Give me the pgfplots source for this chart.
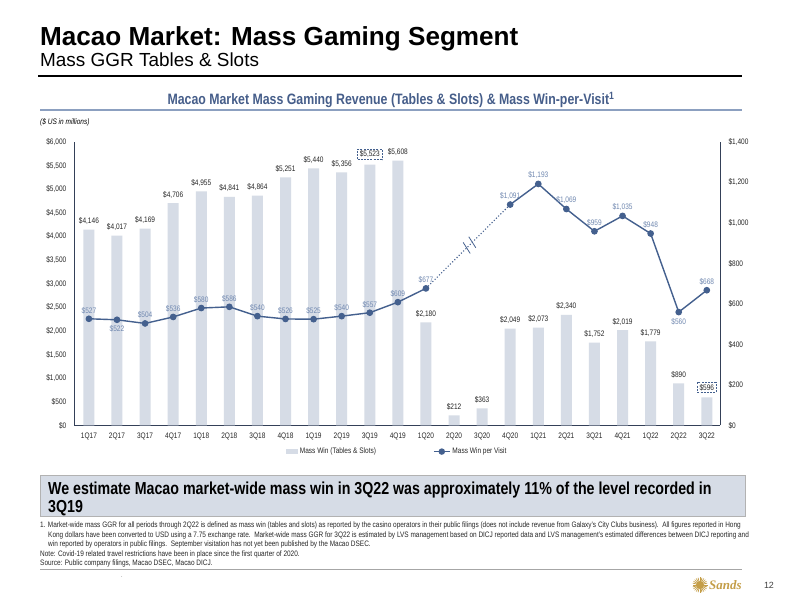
\documentclass[border=0pt]{standalone}
\usepackage{fontspec}
\setmainfont[FakeStretch=0.82]{Liberation Sans}
\newfontfamily\widefont{Liberation Sans}
\newfontfamily\logofont{Liberation Serif}
\usepackage{pgfplots}
\pgfplotsset{compat=1.18}
\usepackage{pgfplotstable}
\definecolor{barc}{RGB}{214,220,230}
\definecolor{linec}{RGB}{68,96,142}
\definecolor{lblc}{RGB}{112,136,176}
\definecolor{titc}{RGB}{70,94,138}
\definecolor{rulec}{RGB}{140,160,192}
\definecolor{axc}{RGB}{52,64,88}
\definecolor{boxc}{RGB}{214,220,230}
\definecolor{goldc}{RGB}{196,158,72}
\definecolor{txtc}{RGB}{40,40,40}

\pgfplotstableread{
x y
0 4146
1 4017
2 4169
3 4706
4 4955
5 4841
6 4864
7 5251
8 5440
9 5356
11 5608
12 2180
13 212
14 363
15 2049
16 2073
17 2340
18 1752
19 2019
20 1779
21 890
}\barsmain
\pgfplotstableread{
x y
10 5523
22 596
}\barsbox
\pgfplotstableread{
x y
0 527
1 522
2 504
3 536
4 580
5 586
6 540
7 526
8 525
9 540
10 557
11 609
12 677
}\lineA
\pgfplotstableread{
x y
12 677
15 1091
}\lineGap
\pgfplotstableread{
x y
15 1091
16 1193
17 1069
18 959
19 1035
20 948
21 560
22 668
}\lineB
\pgfplotstableread{
x y
0 527
2 504
3 536
4 580
5 586
6 540
7 526
8 525
9 540
10 557
11 609
12 677
15 1091
16 1193
17 1069
18 959
19 1035
20 948
22 668
}\labAbove
\pgfplotstableread{
x y
1 522
21 560
}\labBelow

\newcommand\cf{\fontsize{8}{9}\selectfont}

\begin{document}
\begin{tikzpicture}
\path[use as bounding box, fill=white] (0bp,0bp) rectangle (792bp,612bp);

\pgfkeys{/pgf/number format/.cd, 1000 sep={,}, assume math mode=true}

% bars axis
\begin{axis}[
  at={(74.3bp,186.5bp)}, anchor=south west, scale only axis,
  width=645.7bp, height=283.5bp,
  xmin=-0.52, xmax=22.47, ymin=0, ymax=6000,
  axis y line*=left, axis x line*=bottom,
  axis line style={axc, line width=1bp},
  major tick length=0pt,
  xtick={0,...,22},
  xticklabels={1Q17,2Q17,3Q17,4Q17,1Q18,2Q18,3Q18,4Q18,1Q19,2Q19,3Q19,4Q19,1Q20,2Q20,3Q20,4Q20,1Q21,2Q21,3Q21,4Q21,1Q22,2Q22,3Q22},
  xticklabel style={font=\cf, text=txtc, yshift=-3.5bp},
  ytick={0,500,...,6000},
  scaled y ticks=false,
  yticklabel={\$\pgfmathprintnumber{\tick}},
  yticklabel style={font=\cf, text=txtc, xshift=-4.5bp},
  legend style={at={(0.5,-0.092)}, anchor=center, draw=none, fill=none,
    legend columns=2, font=\cf, text=txtc,
    /tikz/every even column/.append style={column sep=55bp}},
  legend cell align=left,
]
\addplot[ybar, bar width=11bp, bar shift=0pt, fill=barc, draw=none,
  nodes near coords={\$\pgfmathprintnumber{\pgfplotspointmeta}},
  every node near coord/.append style={font=\cf, text=txtc, anchor=south, yshift=1.5bp},
  legend image code/.code={\fill[barc] (0bp,-2.5bp) rectangle (12bp,2.5bp);}]
  table[x=x,y=y] {\barsmain};
\addlegendentry{Mass Win (Tables \& Slots)}
\addplot[ybar, bar width=11bp, bar shift=0pt, fill=barc, draw=none, forget plot,
  nodes near coords={\$\pgfmathprintnumber{\pgfplotspointmeta}},
  every node near coord/.append style={font=\cf, text=txtc, anchor=south, yshift=4.5bp,
    draw=linec, dash pattern=on 2bp off 1.2bp, line width=0.8bp, inner xsep=2.2bp, inner ysep=1.8bp}]
  table[x=x,y=y] {\barsbox};
\addlegendimage{line legend, linec, line width=1.4bp, mark=*, mark size=2.3bp, sharp plot,
  legend image code/.code={\draw[linec, line width=1.4bp] (0bp,0bp) -- (16bp,0bp); \fill[linec] (8bp,0bp) circle (2.5bp);}}
\addlegendentry{Mass Win per Visit}
\end{axis}

% line axis
\begin{axis}[
  at={(74.3bp,186.5bp)}, anchor=south west, scale only axis,
  width=645.7bp, height=283.5bp,
  xmin=-0.52, xmax=22.47, ymin=0, ymax=1400,
  axis y line*=right, axis x line=none,
  axis line style={axc, line width=1bp},
  major tick length=0pt,
  ytick={0,200,...,1400},
  scaled y ticks=false,
  yticklabel={\$\pgfmathprintnumber{\tick}},
  yticklabel style={font=\cf, text=txtc, xshift=5bp},
  clip=false,
]
\addplot[linec, line width=1.4bp, mark=*, mark size=2.6bp] table[x=x,y=y] {\lineA};
\addplot[linec, line width=1.1bp, dotted] table[x=x,y=y] {\lineGap};
\addplot[linec, line width=1.4bp, mark=*, mark size=2.6bp] table[x=x,y=y] {\lineB};
\addplot[only marks, mark=*, mark size=2.6bp, linec,
  nodes near coords={\$\pgfmathprintnumber{\pgfplotspointmeta}},
  every node near coord/.append style={font=\cf, text=lblc, anchor=south, yshift=1.5bp}]
  table[x=x,y=y] {\labAbove};
\addplot[only marks, mark=*, mark size=2.6bp, linec,
  nodes near coords={\$\pgfmathprintnumber{\pgfplotspointmeta}},
  every node near coord/.append style={font=\cf, text=lblc, anchor=north, yshift=-2.5bp}]
  table[x=x,y=y] {\labBelow};
\draw[linec, line width=0.8bp] ([xshift=-3.5bp,yshift=5.5bp]axis cs:13.45,877) -- ([xshift=3.5bp,yshift=-5.5bp]axis cs:13.45,877);
\draw[linec, line width=0.8bp] ([xshift=-3.5bp,yshift=5.5bp]axis cs:13.65,905) -- ([xshift=3.5bp,yshift=-5.5bp]axis cs:13.65,905);
\end{axis}

\begin{scope}[x=1bp,y=1bp]
% titles
\node[anchor=base west, inner sep=0] at (40,566) {\widefont\bfseries\fontsize{26.2}{28}\selectfont Macao Market: Mass Gaming Segment};
\node[anchor=base west, inner sep=0] at (40,545) {\widefont\fontsize{19}{21}\selectfont Mass GGR Tables \& Slots};
\draw[black, line width=1.2bp] (38,536) -- (742,536);
\node[anchor=base, inner sep=0, text=titc] at (391,507.5) {\bfseries\fontsize{15.1}{17}\selectfont Macao Market Mass Gaming Revenue (Tables \& Slots) \& Mass Win-per-Visit\textsuperscript{1}};
\draw[rulec, line width=1.5bp] (40,502) -- (742,502);
\node[anchor=base west, inner sep=0] at (40,487.5) {\itshape\fontsize{8}{9}\selectfont (\$ US in millions)};

% bottom box
\draw[fill=boxc, draw=gray!60] (40,96) rectangle (745,137);
\node[anchor=base west, inner sep=0] at (48,118) {\bfseries\fontsize{17.4}{19}\selectfont We estimate Macao market-wide mass win in 3Q22 was approximately 11\% of the level recorded in};
\node[anchor=base west, inner sep=0] at (48,99.5) {\bfseries\fontsize{17.4}{19}\selectfont 3Q19};

% footnotes
\begin{scope}[every node/.style={anchor=base west, inner sep=0, text=txtc, font=\fontsize{7.92}{8}\selectfont}]
\node at (40,84.5) {1. Market-wide mass GGR for all periods through 2Q22 is defined as mass win (tables and slots) as reported by the casino operators in their public filings (does not include revenue from Galaxy's City Clubs business).\ \ All figures reported in Hong};
\node at (48,75) {Kong dollars have been converted to USD using a 7.75 exchange rate.\ \ Market-wide mass GGR for 3Q22 is estimated by LVS management based on DICJ reported data and LVS management's estimated differences between DICJ reporting and};
\node at (48,65.5) {win reported by operators in public filings.\ \ September visitation has not yet been published by the Macao DSEC.};
\node at (40,56) {Note: Covid-19 related travel restrictions have been in place since the first quarter of 2020.};
\node at (40,46.5) {Source: Public company filings, Macao DSEC, Macao DICJ.};
\end{scope}
\draw[gray!70, line width=0.8bp] (40,43) -- (742,43);
\node[inner sep=0, font=\fontsize{5}{5}\selectfont] at (122,35) {.};

% logo
\foreach \a in {0,15,...,345} \draw[goldc, line width=0.7bp] (700,27) -- ++(\a:7.5bp);
\fill[goldc] (700,27) circle (4bp);
\node[anchor=west, inner sep=0, text=goldc] at (709,27) {\logofont\bfseries\itshape\fontsize{13}{14}\selectfont Sands};
\node[anchor=center, inner sep=0, text=black!75] at (769,27) {\widefont\fontsize{9}{10}\selectfont 12};
\end{scope}
\end{tikzpicture}
\end{document}
